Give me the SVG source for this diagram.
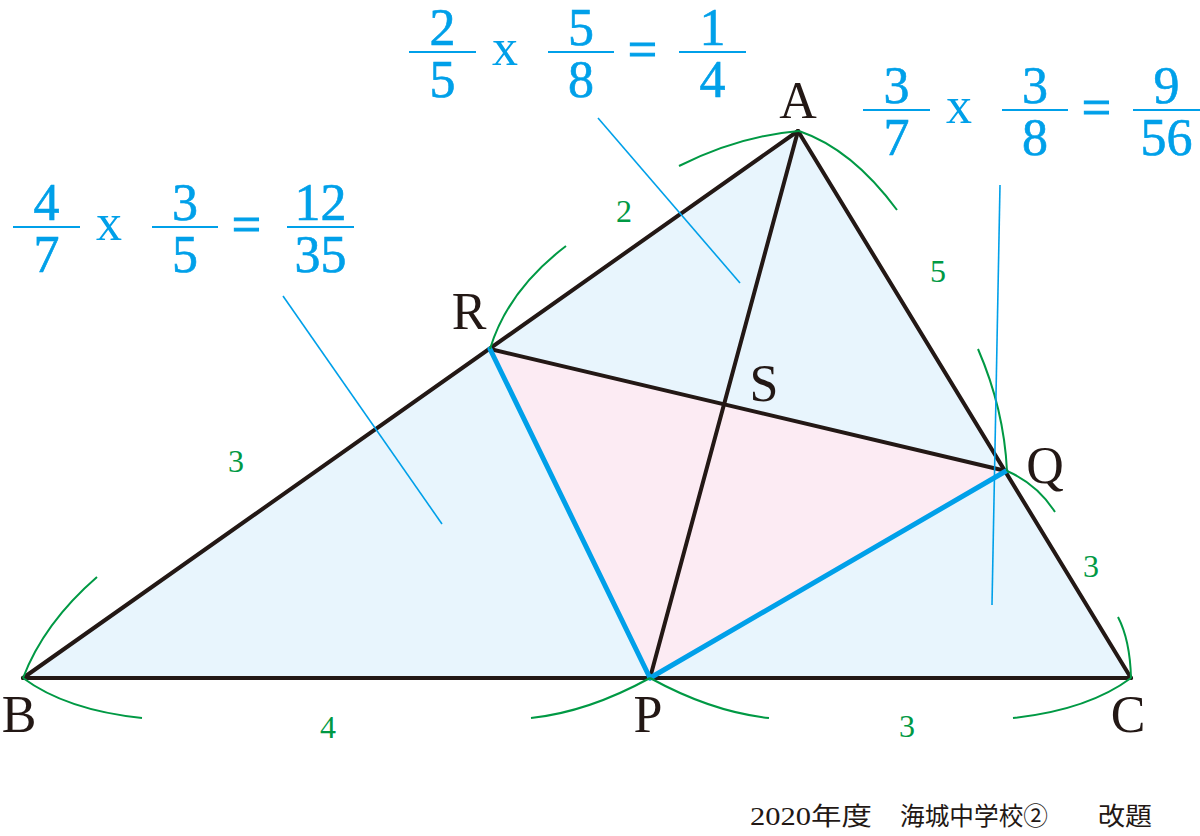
<svg xmlns="http://www.w3.org/2000/svg" width="1200" height="836" viewBox="0 0 1200 836">
<style>
.blk{stroke:#231815;stroke-width:4;fill:none;stroke-linecap:round;stroke-linejoin:round}
.bth{stroke:#00a0e9;stroke-width:5;fill:none;stroke-linecap:round}
.bln{stroke:#00a0e9;stroke-width:1.6;fill:none}
.arc{stroke:#009944;stroke-width:2;fill:none}
.lbl{font-family:"Liberation Serif",serif;font-size:52px;fill:#231815;text-anchor:middle}
.num{font-family:"Liberation Serif",serif;font-size:32px;fill:#009944;text-anchor:middle}
.fr{font-family:"Liberation Serif",serif;font-size:52px;fill:#00a0e9;text-anchor:middle;stroke:#00a0e9;stroke-width:0.6}
.op{font-family:"Liberation Serif",serif;font-size:52px;fill:#00a0e9;text-anchor:middle}
.eq{font-family:"Liberation Serif",serif;font-size:52px;fill:#00a0e9;text-anchor:middle;stroke:#00a0e9;stroke-width:1}
.bar{stroke:#00a0e9;stroke-width:2.2}
.cap{font-family:"Liberation Serif","Noto Sans CJK JP",serif;font-size:25px;fill:#231815}
</style>
<rect width="1200" height="836" fill="#ffffff"/>
<g id="fills">
<polygon points="798,131 23,678 1131,678" fill="#e8f5fd"/>
<polygon points="490,349 650,678 1006,471" fill="#fcebf3"/>
</g>
<g id="connectors">
<line class="blk" x1="798" y1="131" x2="23" y2="678"/>
<line class="blk" x1="798" y1="131" x2="1131" y2="678"/>
<line class="blk" x1="23" y1="678" x2="1131" y2="678"/>
<line class="blk" x1="798" y1="131" x2="650" y2="678"/>
<line class="blk" x1="490" y1="349" x2="1006" y2="471"/>
<line class="bth" x1="490" y1="349" x2="650" y2="678"/>
<line class="bth" x1="650" y1="678" x2="1006" y2="471"/>
<path class="arc" d="M23,678 Q44,623 97,577"/>
<path class="arc" d="M23,678 Q66,710 142,718"/>
<path class="arc" d="M531,718 Q588,712 650,678"/>
<path class="arc" d="M650,678 Q712,712 769,718"/>
<path class="arc" d="M1118,617 Q1130,640 1131,678"/>
<path class="arc" d="M1131,678 Q1088,710 1013,718"/>
<path class="arc" d="M978,349 Q1004,409 1007,471"/>
<path class="arc" d="M1007,471 Q1037,484 1055,512"/>
<path class="arc" d="M679,166 Q739,136 799,131"/>
<path class="arc" d="M799,131 Q852,149 897,210"/>
<path class="arc" d="M490,349 Q508,290 566,246"/>
<line class="bln" x1="598" y1="118" x2="740" y2="283"/>
<line class="bln" x1="283" y1="296" x2="442" y2="524"/>
<line class="bln" x1="1000" y1="185" x2="992" y2="605"/>
</g>
<g id="node-A"><text class="lbl" x="798" y="118">A</text></g>
<g id="node-B"><text class="lbl" x="19" y="732">B</text></g>
<g id="node-C"><text class="lbl" x="1128" y="732">C</text></g>
<g id="node-P"><text class="lbl" x="648" y="732">P</text></g>
<g id="node-Q"><text class="lbl" x="1045" y="483">Q</text></g>
<g id="node-R"><text class="lbl" x="469" y="329">R</text></g>
<g id="node-S"><text class="lbl" x="764" y="401">S</text></g>
<g id="lengths">
<text class="num" x="624" y="222">2</text>
<text class="num" x="938" y="282">5</text>
<text class="num" x="236" y="472">3</text>
<text class="num" x="1091" y="577">3</text>
<text class="num" x="328" y="738">4</text>
<text class="num" x="907" y="737">3</text>
</g>
<g id="eq1" transform="translate(409,52)">
<line class="bar" x1="0" y1="0" x2="67" y2="0"/><text class="fr" x="33.5" y="-7">2</text><text class="fr" x="33.5" y="45">5</text>
<text class="op" x="96" y="13">x</text>
<line class="bar" x1="139" y1="0" x2="205" y2="0"/><text class="fr" x="172" y="-7">5</text><text class="fr" x="172" y="45">8</text>
<text class="eq" x="233.5" y="15">=</text>
<line class="bar" x1="270" y1="0" x2="337" y2="0"/><text class="fr" x="303.5" y="-7">1</text><text class="fr" x="303.5" y="45">4</text>
</g>
<g id="eq2" transform="translate(863,110)">
<line class="bar" x1="0" y1="0" x2="67" y2="0"/><text class="fr" x="33.5" y="-7">3</text><text class="fr" x="33.5" y="45">7</text>
<text class="op" x="96" y="13">x</text>
<line class="bar" x1="139" y1="0" x2="205" y2="0"/><text class="fr" x="172" y="-7">3</text><text class="fr" x="172" y="45">8</text>
<text class="eq" x="233.5" y="15">=</text>
<line class="bar" x1="270" y1="0" x2="337" y2="0"/><text class="fr" x="303.5" y="-7">9</text><text class="fr" x="303.5" y="45">56</text>
</g>
<g id="eq3" transform="translate(13,227)">
<line class="bar" x1="0" y1="0" x2="67" y2="0"/><text class="fr" x="33.5" y="-7">4</text><text class="fr" x="33.5" y="45">7</text>
<text class="op" x="96" y="13">x</text>
<line class="bar" x1="139" y1="0" x2="205" y2="0"/><text class="fr" x="172" y="-7">3</text><text class="fr" x="172" y="45">5</text>
<text class="eq" x="233.5" y="15">=</text>
<line class="bar" x1="274" y1="0" x2="341" y2="0"/><text class="fr" x="307.5" y="-7">12</text><text class="fr" x="307.5" y="45">35</text>
</g>
<g id="caption">
<text class="cap" x="750" y="825" textLength="122" lengthAdjust="spacingAndGlyphs">2020年度</text>
<text class="cap" x="900" y="825" textLength="148" lengthAdjust="spacingAndGlyphs">海城中学校②</text>
<text class="cap" x="1098" y="825" textLength="54" lengthAdjust="spacingAndGlyphs">改題</text>
</g>
</svg>
